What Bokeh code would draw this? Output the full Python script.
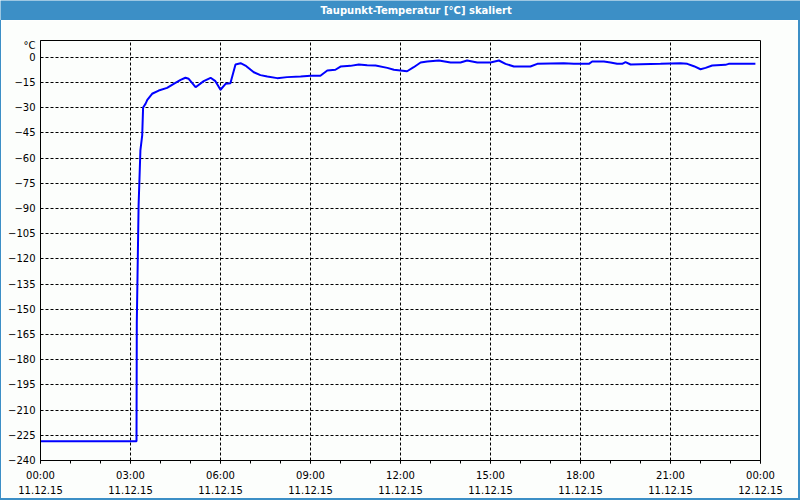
from bokeh.plotting import figure
from bokeh.models import Range1d, FixedTicker, Spacer
from bokeh.layouts import column, row
from bokeh.core.properties import value
from bokeh.embed import file_html
from bokeh.resources import INLINE

# ---- data ----
title_text = "Taupunkt-Temperatur [°C] skaliert"
unit_text = "°C"
unit_pos = 7

hours = [0.0, 3.20, 3.21, 3.27, 3.33, 3.39, 3.42, 3.50, 3.56, 3.72, 3.94, 4.22, 4.44,
         4.67, 4.83, 4.94, 5.17, 5.44, 5.67, 5.83, 6.00, 6.17, 6.33, 6.50, 6.67,
         6.83, 7.11, 7.33, 7.56, 7.89, 8.22, 8.67, 9.00, 9.33, 9.56, 9.83, 10.00,
         10.33, 10.61, 10.89, 11.17, 11.56, 11.78, 12.22, 12.44, 12.67, 12.89,
         13.28, 13.67, 14.00, 14.22, 14.56, 15.00, 15.28, 15.50, 15.78, 16.33,
         16.56, 17.44, 17.78, 18.28, 18.39, 18.78, 19.00, 19.22, 19.39, 19.50,
         19.67, 20.67, 21.33, 21.56, 21.78, 22.00, 22.17, 22.39, 22.83, 22.94, 23.83]
dewpoint = [-228.5, -228.5, -158.0, -88.2, -55.4, -46.5, -29.9, -27.7, -25.3, -21.7,
            -19.8, -18.2, -15.8, -13.4, -12.2, -12.8, -17.8, -14.2, -12.2, -14.2,
            -19.3, -15.8, -15.4, -4.3, -3.5, -4.9, -8.9, -10.6, -11.4, -12.4, -11.8,
            -11.4, -11.0, -11.0, -7.9, -7.4, -5.5, -5.1, -4.3, -4.7, -4.9, -6.3, -7.4,
            -8.3, -5.9, -3.1, -2.5, -1.9, -3.1, -3.1, -1.9, -3.1, -3.1, -1.9, -3.9,
            -5.5, -5.5, -3.9, -3.5, -3.9, -3.9, -2.5, -2.5, -3.1, -3.9, -3.9, -2.9,
            -4.3, -3.9, -3.5, -3.9, -5.3, -7.1, -6.3, -4.9, -4.5, -3.9, -3.9]

x_ticks = [0, 3, 6, 9, 12, 15, 18, 21, 24]
x_minor_ticks = list(range(0, 25))
x_tick_labels = ["00:00\n11.12.15", "03:00\n11.12.15", "06:00\n11.12.15",
                 "09:00\n11.12.15", "12:00\n11.12.15", "15:00\n11.12.15",
                 "18:00\n11.12.15", "21:00\n11.12.15", "00:00\n12.12.15"]
y_ticks = list(range(-240, 1, 15))

# ---- styles ----
BAR_BLUE = "#3c8fc6"
BG = "#fcfefc"
FONT = "DejaVu Sans"

# title bar
tb = figure(width=800, height=20, x_range=Range1d(0, 800), y_range=Range1d(0, 20),
            output_backend="svg", toolbar_location=None, min_border=0,
            background_fill_color=BAR_BLUE, border_fill_color=BAR_BLUE)
tb.outline_line_color = None
tb.axis.visible = False
tb.grid.visible = False
tb.text(x=[320], y=[10], text=[title_text], text_color="white",
        text_font=value(FONT), text_font_style="bold", text_font_size="10px",
        text_align="left", text_baseline="middle")

# main chart
p = figure(width=797, height=478, x_range=Range1d(0, 24), y_range=Range1d(-240, 10),
           output_backend="svg", toolbar_location=None,
           min_border_left=39, min_border_right=38, min_border_top=20, min_border_bottom=38,
           background_fill_color=BG, border_fill_color=BG)
p.outline_line_color = "black"
p.outline_line_width = 1
p.outline_line_alpha = 1

p.line(hours, dewpoint, line_color="#0000ff", line_width=2)

p.xaxis.ticker = FixedTicker(ticks=x_ticks, minor_ticks=x_minor_ticks)
p.xaxis.major_label_overrides = dict(zip(x_ticks, x_tick_labels))
p.yaxis.ticker = FixedTicker(ticks=y_ticks + [unit_pos])
p.yaxis.major_label_overrides = {unit_pos: unit_text}
p.ygrid.ticker = FixedTicker(ticks=y_ticks)

for ax in (p.xaxis, p.yaxis):
    ax.axis_line_color = "black"
    ax.major_label_text_font = FONT
    ax.major_label_text_font_size = "10px"
    ax.major_label_text_color = "black"

p.xaxis.major_tick_out = 3
p.xaxis.major_tick_in = 0
p.xaxis.minor_tick_out = 3
p.xaxis.minor_tick_in = 0
p.xaxis.major_tick_line_color = "black"
p.xaxis.minor_tick_line_color = "black"
p.xaxis.major_label_standoff = 6
p.xaxis.major_label_text_line_height = 1.4

p.yaxis.major_tick_out = 0
p.yaxis.major_tick_in = 0
p.yaxis.minor_tick_out = 0
p.yaxis.minor_tick_in = 0
p.yaxis.major_label_standoff = 5

p.grid.grid_line_color = "black"
p.grid.grid_line_dash = "3 2"
p.grid.grid_line_width = 1

left_strip = Spacer(width=1, height=478, styles={"background-color": BAR_BLUE})
right_strip = Spacer(width=2, height=478, styles={"background-color": BAR_BLUE})
bottom_strip = Spacer(width=800, height=2, styles={"background-color": BAR_BLUE})

layout = column(tb, row(left_strip, p, right_strip), bottom_strip, spacing=0)

open("out.html", "w").write(file_html(layout, INLINE))
